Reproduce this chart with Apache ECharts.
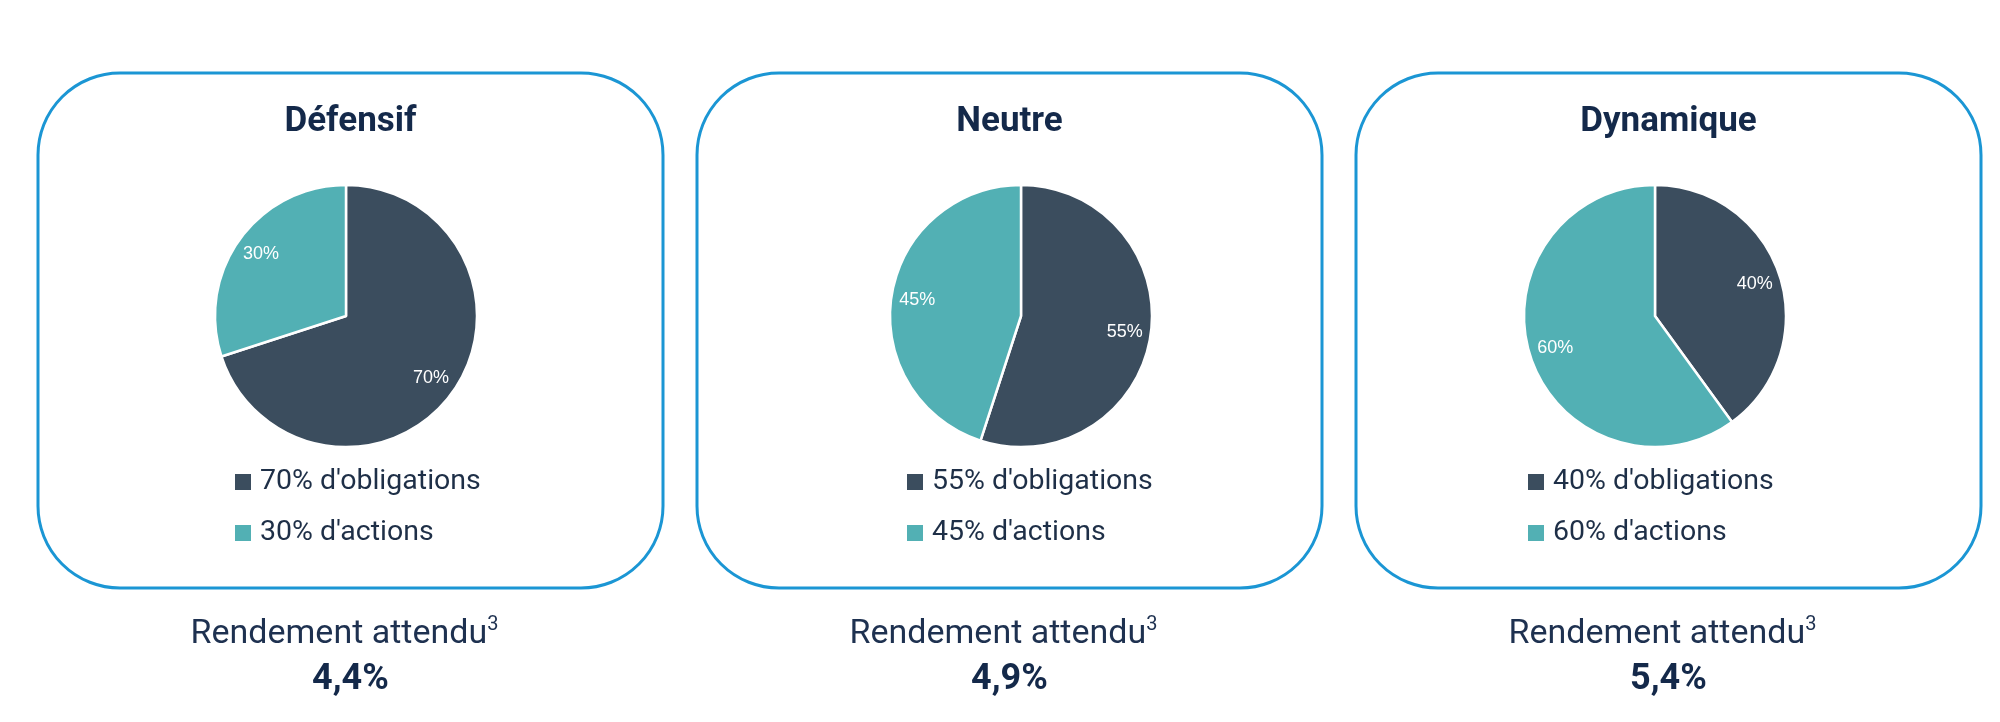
<!DOCTYPE html>
<html>
<head>
<meta charset="utf-8">
<title>Profils de placement</title>
<script src="https://cdn.jsdelivr.net/npm/echarts@6/dist/echarts.min.js"></script>
<style>
  html, body { margin: 0; padding: 0; background: #fff; }
  #chart { width: 2000px; height: 722px; }
</style>
</head>
<body>
<div id="chart"></div>
<script>
// donnees
var profils = ['Défensif', 'Neutre', 'Dynamique'];
var obligations = [70, 55, 40];
var actions = [30, 45, 60];
var rendements = ['4,4%', '4,9%', '5,4%'];
var libelleRendement = 'Rendement attendu';

// mise en page (px)
var boxLeft = [38, 697, 1356];
var pieCenterX = [346, 1021, 1655];
var legendLeft = [230, 902, 1523];
var boxW = 625, boxTop = 73, boxH = 515;
var pieY = 316, pieR = 131;

var colObl = '#3B4D5E';
var colAct = '#52B0B4';
var bleu = '#1B96D4';
var navy = '#14294A';
var fontMain = 'Roboto, "Noto Sans", sans-serif';

var chart = echarts.init(document.getElementById('chart'));

var series = [], overlays = [], legends = [], graphics = [];

profils.forEach(function (nom, i) {
    var names = [obligations[i] + "% d'obligations", actions[i] + "% d'actions"];
    var data = [
        { name: names[0], value: obligations[i], itemStyle: { color: colObl } },
        { name: names[1], value: actions[i], itemStyle: { color: colAct } }
    ];
    series.push({
        type: 'pie',
        name: nom,
        center: [pieCenterX[i], pieY],
        radius: [0, pieR],
        startAngle: 90,
        clockwise: true,
        label: { show: false },
        labelLine: { show: false },
        itemStyle: { borderColor: '#fff', borderWidth: 2.5 },
        emphasis: { disabled: true },
        data: data
    });
    // etiquettes placees vers l'exterieur comme dans Excel
    overlays.push({
        type: 'pie',
        name: nom + '-labels',
        silent: true,
        center: [pieCenterX[i], pieY],
        radius: [73, pieR],
        startAngle: 90,
        clockwise: true,
        itemStyle: { color: 'rgba(0,0,0,0)' },
        label: {
            show: true,
            position: 'inside',
            formatter: '{c}%',
            color: '#fff',
            fontSize: 18,
            fontFamily: '"Liberation Sans", Arial, sans-serif'
        },
        labelLine: { show: false },
        emphasis: { disabled: true },
        data: data.map(function (d) { return { name: d.name, value: d.value }; })
    });
    legends.push({
        data: names,
        orient: 'vertical',
        left: legendLeft[i],
        top: 462,
        icon: 'rect',
        itemWidth: 16,
        itemHeight: 16,
        itemGap: 21,
        selectedMode: false,
        itemStyle: { borderWidth: 0 },
        textStyle: {
            fontSize: 28.5,
            lineHeight: 30,
            color: '#1E2F47',
            fontFamily: fontMain,
            padding: [0, 0, 0, 4]
        }
    });

    var cx = boxLeft[i] + boxW / 2;
    graphics.push({
        type: 'rect',
        shape: { x: boxLeft[i], y: boxTop, width: boxW, height: boxH, r: 82 },
        style: { fill: 'none', stroke: bleu, lineWidth: 3 },
        silent: true
    });
    graphics.push({
        type: 'text',
        x: cx, y: 122,
        style: {
            text: nom,
            textAlign: 'center', textVerticalAlign: 'middle',
            font: 'bold 35px ' + fontMain,
            fill: navy
        }
    });
    graphics.push({
        type: 'text',
        x: cx - 6, y: 634,
        style: {
            text: '{a|' + libelleRendement + '}{s|3}',
            textAlign: 'center', textVerticalAlign: 'middle',
            rich: {
                a: { fontSize: 34, fontFamily: fontMain, fill: '#1E3150', lineHeight: 38 },
                s: { fontSize: 20, fontFamily: fontMain, fill: '#1E3150', verticalAlign: 'top', lineHeight: 38 }
            }
        }
    });
    graphics.push({
        type: 'text',
        x: cx, y: 680,
        style: {
            text: rendements[i],
            textAlign: 'center', textVerticalAlign: 'middle',
            font: 'bold 36px ' + fontMain,
            fill: navy
        }
    });
});

var option = {
    backgroundColor: '#fff',
    animation: false,
    tooltip: { show: false },
    legend: legends,
    graphic: graphics,
    series: series.concat(overlays)
};
chart.setOption(option);
</script>
</body>
</html>
